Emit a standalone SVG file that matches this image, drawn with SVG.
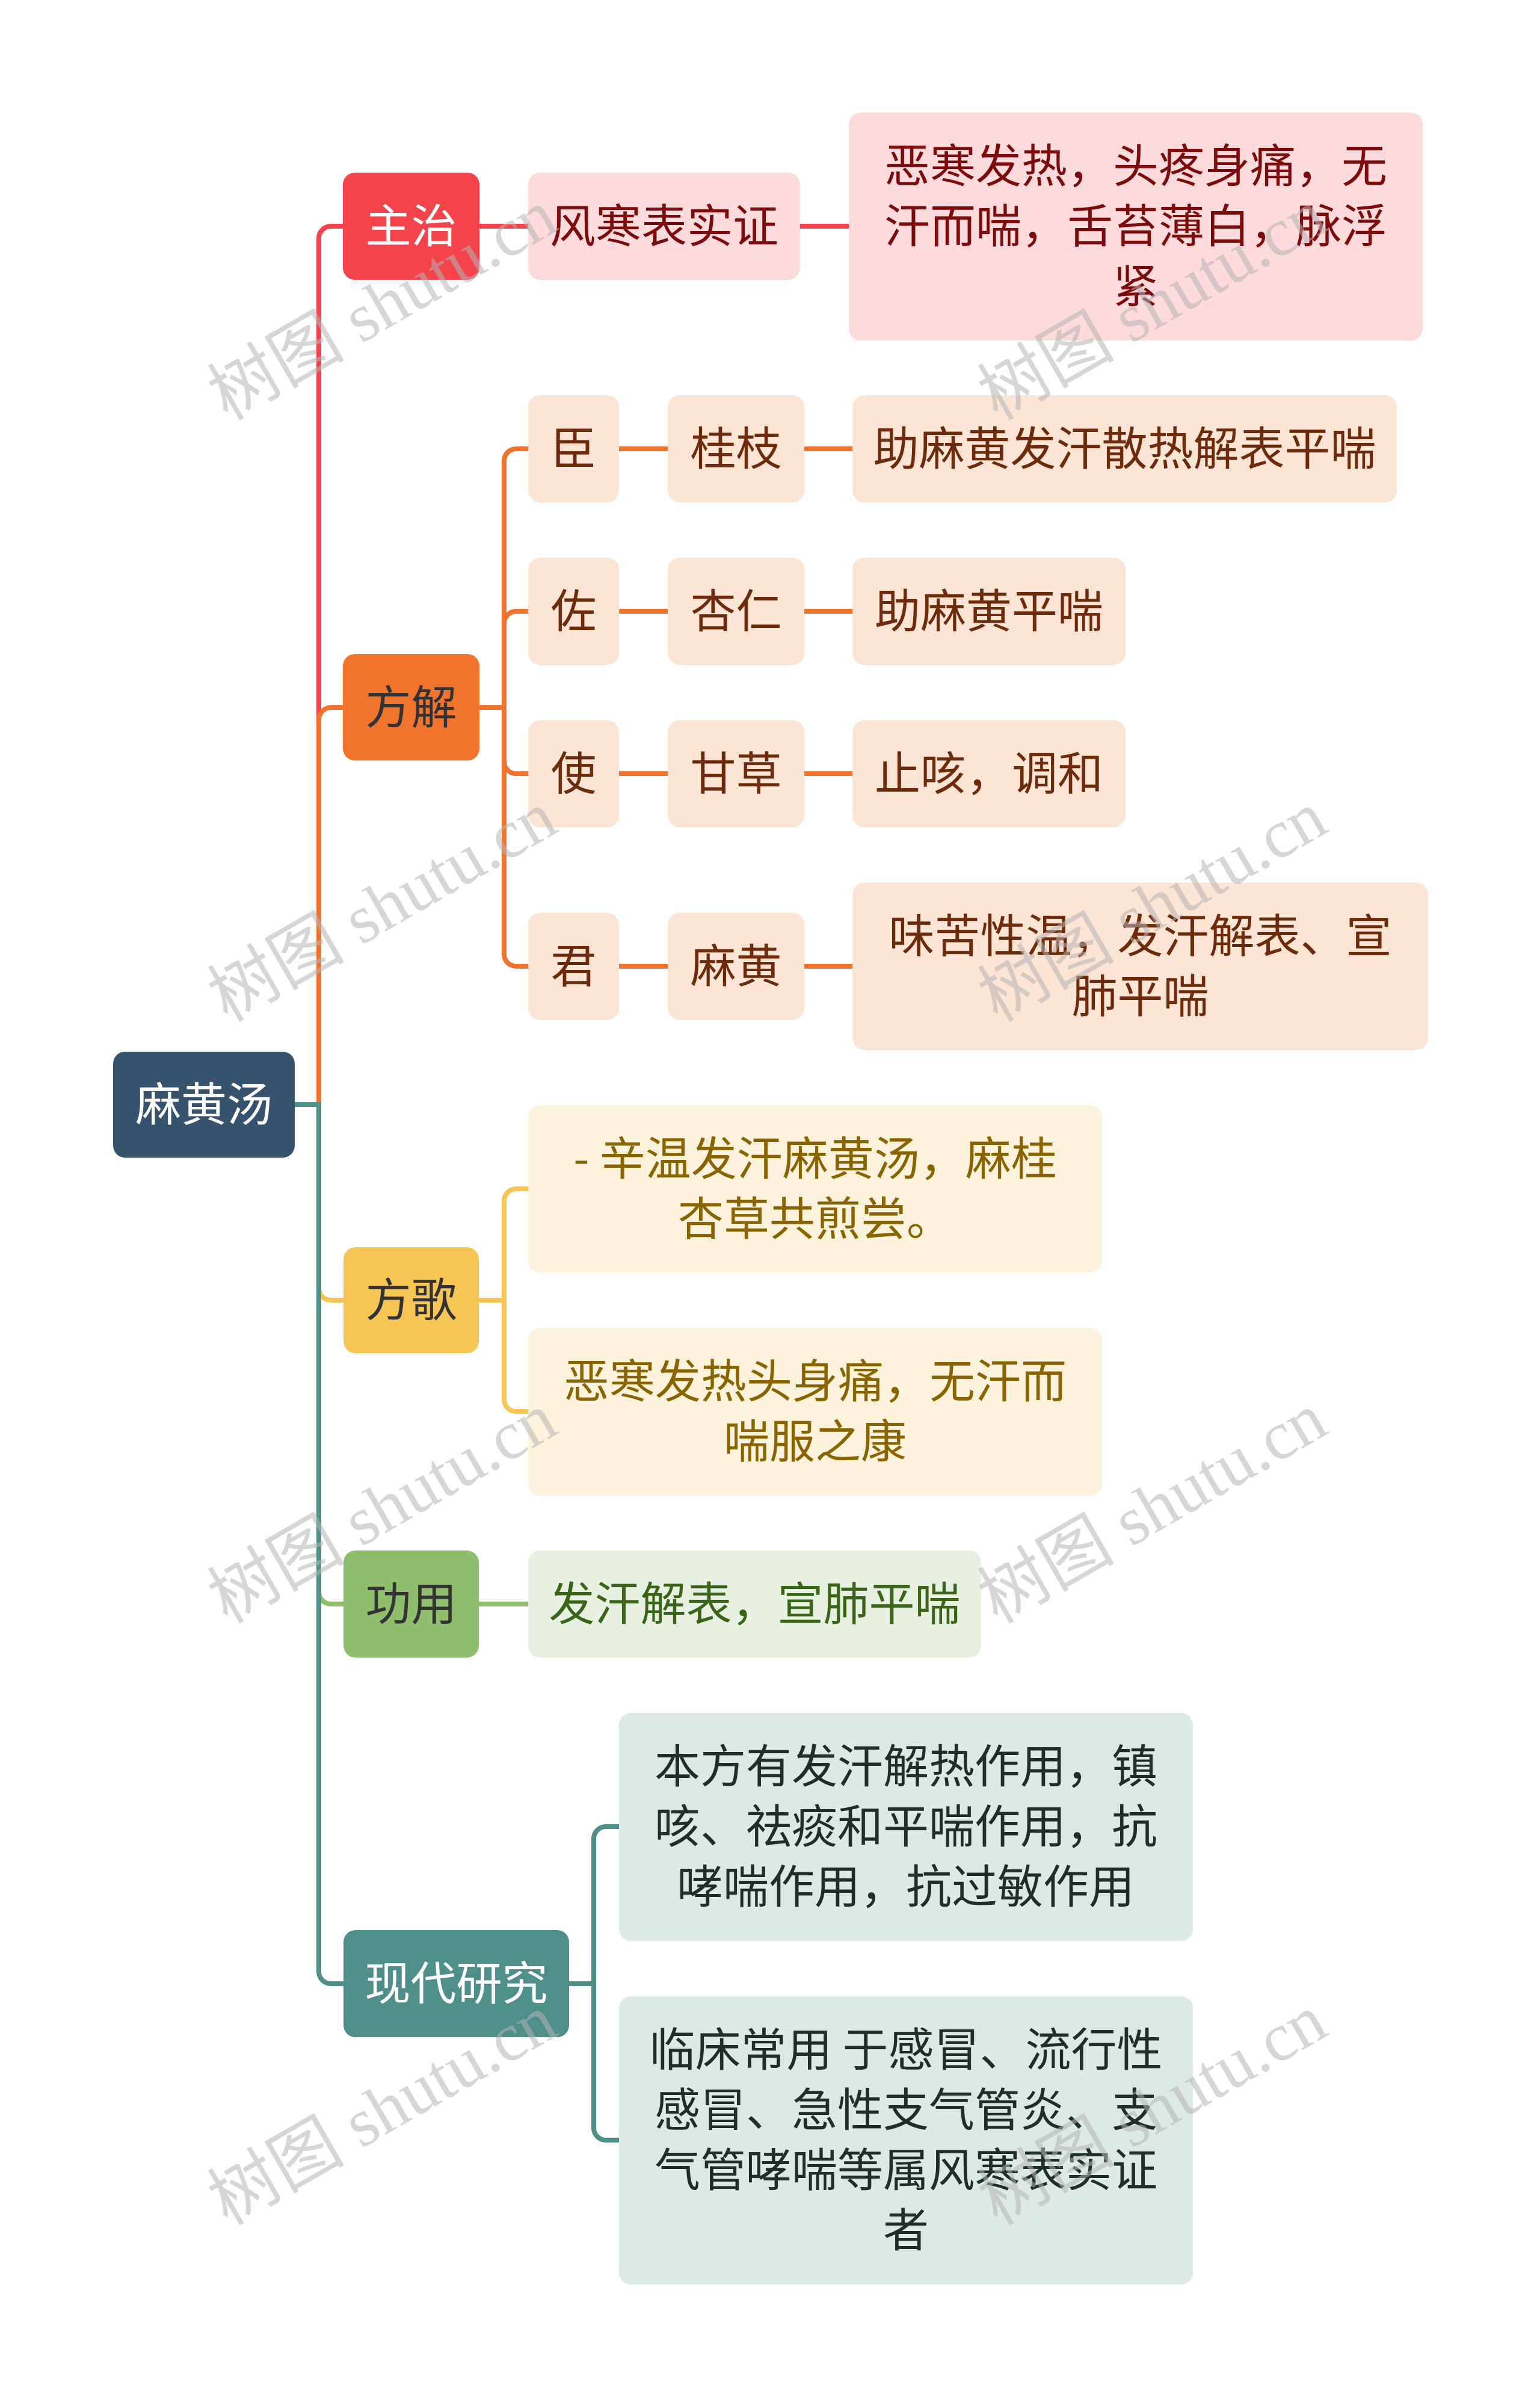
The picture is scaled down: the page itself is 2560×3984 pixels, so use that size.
<svg xmlns="http://www.w3.org/2000/svg" width="2560" height="3984" viewBox="0 0 2560 3984">
<style>
text{font-family:"Noto Sans CJK SC","Noto Sans",sans-serif;font-size:76px;text-anchor:middle}
.c{fill:none;stroke-width:8}
.red{stroke:#f4434b}.org{stroke:#f0742e}.yel{stroke:#f7c553}.grn{stroke:#8fbf6c}.tea{stroke:#4f8f8a}
.wm{font-family:"Liberation Serif","Noto Sans CJK SC",serif;font-size:114px;fill:#b4b4b4;fill-opacity:0.55;text-anchor:start}
</style>
<rect width="2560" height="3984" fill="#ffffff"/>
<g id="connectors">
<path class="c red" d="M490,1836 H530 V396 A20,20 0 0 1 550,376 H570"/>
<path class="c org" d="M490,1836 H530 V1196 A20,20 0 0 1 550,1176 H570"/>
<path class="c yel" d="M490,1836 H530 V2141 A20,20 0 0 0 550,2161 H571"/>
<path class="c grn" d="M490,1836 H530 V2646 A20,20 0 0 0 550,2666 H571"/>
<path class="c tea" d="M490,1836 H530 V3277 A20,20 0 0 0 550,3297 H571"/>
<path class="c red" d="M797,376 H878 M1330,376 H1411"/>
<path class="c org" d="M797,1176 H838 V766 A20,20 0 0 1 858,746 H878"/>
<path class="c org" d="M797,1176 H838 V1036 A20,20 0 0 1 858,1016 H878"/>
<path class="c org" d="M797,1176 H838 V1266 A20,20 0 0 0 858,1286 H878"/>
<path class="c org" d="M797,1176 H838 V1586 A20,20 0 0 0 858,1606 H878"/>
<path class="c org" d="M1029,746 H1110 M1337,746 H1417 M1029,1016 H1110 M1337,1016 H1417 M1029,1286 H1110 M1337,1286 H1417 M1029,1606 H1110 M1337,1606 H1417"/>
<path class="c yel" d="M796,2161 H838 V1996 A20,20 0 0 1 858,1976 H878"/>
<path class="c yel" d="M796,2161 H838 V2326 A20,20 0 0 0 858,2346 H878"/>
<path class="c grn" d="M796,2666 H878"/>
<path class="c tea" d="M946,3297 H987 V3056 A20,20 0 0 1 1007,3036 H1029"/>
<path class="c tea" d="M946,3297 H987 V3537 A20,20 0 0 0 1007,3557 H1029"/>
</g>
<g id="root"><rect x="188" y="1748" width="302" height="176" rx="20" fill="#37526d"/><text x="339" y="1863" fill="#ffffff">麻黄汤</text></g>
<g id="n-zhuzhi"><rect x="570" y="287" width="227" height="178" rx="20" fill="#f4434b"/><text x="683.5" y="403" fill="#ffffff">主治</text></g>
<g id="n-fenghan"><rect x="878" y="287" width="452" height="178" rx="20" fill="#fddadb"/><text x="1104" y="403" fill="#7d0b0b">风寒表实证</text></g>
<g id="n-ehan"><rect x="1411" y="187" width="954" height="379" rx="20" fill="#fddadb"/><text x="1888" fill="#7d0b0b"><tspan x="1888" y="303">恶寒发热，头疼身痛，无</tspan><tspan x="1888" y="403">汗而喘，舌苔薄白，脉浮</tspan><tspan x="1888" y="503">紧</tspan></text></g>
<g id="n-fangjie"><rect x="570" y="1087" width="227" height="177" rx="20" fill="#f0742e"/><text x="683.5" y="1203" fill="#333333">方解</text></g>
<g id="n-chen"><rect x="878" y="657" width="151" height="178" rx="20" fill="#fde5d6"/><text x="953.5" y="773" fill="#6e2b0c">臣</text></g>
<g id="n-zuo"><rect x="878" y="927" width="151" height="178" rx="20" fill="#fde5d6"/><text x="953.5" y="1043" fill="#6e2b0c">佐</text></g>
<g id="n-shi"><rect x="878" y="1197" width="151" height="178" rx="20" fill="#fde5d6"/><text x="953.5" y="1313" fill="#6e2b0c">使</text></g>
<g id="n-jun"><rect x="878" y="1517" width="151" height="178" rx="20" fill="#fde5d6"/><text x="953.5" y="1633" fill="#6e2b0c">君</text></g>
<g id="n-guizhi"><rect x="1110" y="657" width="227" height="178" rx="20" fill="#fde5d6"/><text x="1223.5" y="773" fill="#6e2b0c">桂枝</text></g>
<g id="n-xingren"><rect x="1110" y="927" width="227" height="178" rx="20" fill="#fde5d6"/><text x="1223.5" y="1043" fill="#6e2b0c">杏仁</text></g>
<g id="n-gancao"><rect x="1110" y="1197" width="227" height="178" rx="20" fill="#fde5d6"/><text x="1223.5" y="1313" fill="#6e2b0c">甘草</text></g>
<g id="n-mahuang"><rect x="1110" y="1517" width="227" height="178" rx="20" fill="#fde5d6"/><text x="1223.5" y="1633" fill="#6e2b0c">麻黄</text></g>
<g id="n-zhu1"><rect x="1417" y="657" width="905" height="178" rx="20" fill="#fde5d6"/><text x="1869.5" y="773" fill="#6e2b0c">助麻黄发汗散热解表平喘</text></g>
<g id="n-zhu2"><rect x="1417" y="927" width="454" height="178" rx="20" fill="#fde5d6"/><text x="1644" y="1043" fill="#6e2b0c">助麻黄平喘</text></g>
<g id="n-zhike"><rect x="1417" y="1197" width="454" height="178" rx="20" fill="#fde5d6"/><text x="1644" y="1313" fill="#6e2b0c">止咳，调和</text></g>
<g id="n-weiku"><rect x="1417" y="1467" width="957" height="278" rx="20" fill="#fde5d6"/><text fill="#6e2b0c"><tspan x="1895.5" y="1583">味苦性温，发汗解表、宣</tspan><tspan x="1895.5" y="1683">肺平喘</tspan></text></g>
<g id="n-fangge"><rect x="571" y="2073" width="225" height="176" rx="20" fill="#f7c553"/><text x="683.5" y="2188" fill="#333333">方歌</text></g>
<g id="n-ge1"><rect x="878" y="1837" width="954" height="278" rx="20" fill="#fdf3dc"/><text fill="#8a6400"><tspan x="1355" y="1953">- 辛温发汗麻黄汤，麻桂</tspan><tspan x="1355" y="2053">杏草共煎尝。</tspan></text></g>
<g id="n-ge2"><rect x="878" y="2207" width="954" height="279" rx="20" fill="#fdf3dc"/><text fill="#8a6400"><tspan x="1355" y="2323">恶寒发热头身痛，无汗而</tspan><tspan x="1355" y="2423">喘服之康</tspan></text></g>
<g id="n-gongyong"><rect x="571" y="2577" width="225" height="178" rx="20" fill="#8fbf6c"/><text x="683.5" y="2693" fill="#333333">功用</text></g>
<g id="n-fahan"><rect x="878" y="2577" width="753" height="178" rx="20" fill="#e8f1e1"/><text x="1254.5" y="2693" fill="#3a6418">发汗解表，宣肺平喘</text></g>
<g id="n-xiandai"><rect x="571" y="3208" width="375" height="178" rx="20" fill="#4f8f8a"/><text x="758.5" y="3324" fill="#ffffff">现代研究</text></g>
<g id="n-yj1"><rect x="1029" y="2847" width="954" height="379" rx="20" fill="#dde9e7"/><text fill="#1f2d2b"><tspan x="1506" y="2963">本方有发汗解热作用，镇</tspan><tspan x="1506" y="3063">咳、祛痰和平喘作用，抗</tspan><tspan x="1506" y="3163">哮喘作用，抗过敏作用</tspan></text></g>
<g id="n-yj2"><rect x="1029" y="3318" width="954" height="479" rx="20" fill="#dde9e7"/><text fill="#1f2d2b"><tspan x="1506" y="3434">临床常用 于感冒、流行性</tspan><tspan x="1506" y="3534">感冒、急性支气管炎、支</tspan><tspan x="1506" y="3634">气管哮喘等属风寒表实证</tspan><tspan x="1506" y="3734">者</tspan></text></g>
<g id="watermarks">
<text class="wm" transform="translate(378,700) rotate(-30)">树图 shutu.cn</text>
<text class="wm" transform="translate(378,1700) rotate(-30)">树图 shutu.cn</text>
<text class="wm" transform="translate(378,2700) rotate(-30)">树图 shutu.cn</text>
<text class="wm" transform="translate(378,3700) rotate(-30)">树图 shutu.cn</text>
<text class="wm" transform="translate(1658,700) rotate(-30)">树图 shutu.cn</text>
<text class="wm" transform="translate(1658,1700) rotate(-30)">树图 shutu.cn</text>
<text class="wm" transform="translate(1658,2700) rotate(-30)">树图 shutu.cn</text>
<text class="wm" transform="translate(1658,3700) rotate(-30)">树图 shutu.cn</text>
</g>
</svg>
